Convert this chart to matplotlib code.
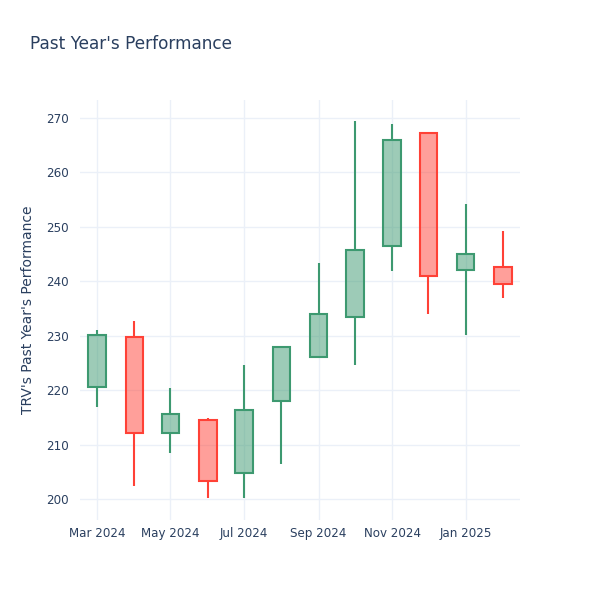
import matplotlib
matplotlib.use("Agg")
import matplotlib.pyplot as plt
import matplotlib.dates as mdates
from matplotlib.colors import to_rgba
import numpy as np
import pandas as pd

# Monthly OHLC values
months = pd.date_range("2024-03-01", "2025-02-01", freq="MS")
opens = [220.6, 229.8, 212.2, 214.6, 204.9, 218.1, 226.2, 233.4, 246.5, 267.2, 242.1, 242.7]
highs = [231.0, 232.7, 220.4, 215.0, 224.6, 228.0, 243.4, 269.4, 268.9, 267.2, 254.3, 249.2]
lows = [216.9, 202.4, 208.5, 200.2, 200.3, 206.4, 226.0, 224.6, 241.9, 234.1, 230.2, 236.9]
closes = [230.1, 212.1, 215.6, 203.3, 216.4, 227.9, 234.0, 245.8, 266.0, 241.0, 245.0, 239.5]

UP = "#3D9970"
DOWN = "#FF4136"
TEXT = "#2a3f5f"
GRID = "#EBF0F8"

plt.rcParams["font.family"] = ["DejaVu Sans"]

fig = plt.figure(figsize=(6, 6), dpi=100)
ax = fig.add_axes([80 / 600, 80 / 600, 440 / 600, 420 / 600])

x = mdates.date2num(months)
lw = 1.5
for xi, o, h, l, c in zip(x, opens, highs, lows, closes):
    col = UP if c >= o else DOWN
    lo_body, hi_body = min(o, c), max(o, c)
    ax.vlines(xi, l, lo_body, color=col, lw=lw, zorder=2)
    ax.vlines(xi, hi_body, h, color=col, lw=lw, zorder=2)
    ax.bar(xi, hi_body - lo_body, bottom=lo_body, width=14.5,
           facecolor=to_rgba(col, 0.5), edgecolor=col, linewidth=lw, zorder=3)

ax.set_xlim(mdates.date2num(pd.Timestamp("2024-02-16")), mdates.date2num(pd.Timestamp("2025-02-15")))
ax.set_ylim(196.2, 273.3)
ax.set_yticks(np.arange(200, 271, 10))
ax.xaxis.set_major_locator(mdates.MonthLocator(bymonth=[1, 3, 5, 7, 9, 11]))
ax.xaxis.set_major_formatter(mdates.DateFormatter("%b %Y"))

ax.grid(True, color=GRID, lw=1, zorder=0)
ax.set_axisbelow(True)
for s in ax.spines.values():
    s.set_visible(False)
ax.tick_params(length=0, labelsize=8.6, colors=TEXT, pad=5)
ax.tick_params(axis="y", pad=8)

ax.set_ylabel("TRV's Past Year's Performance", color=TEXT, fontsize=10, labelpad=8)
fig.text(30 / 600, 1 - 44 / 600, "Past Year's Performance", color=TEXT, fontsize=12.2,
         ha="left", va="center")

fig.savefig("out.png", dpi=100, facecolor="white")
